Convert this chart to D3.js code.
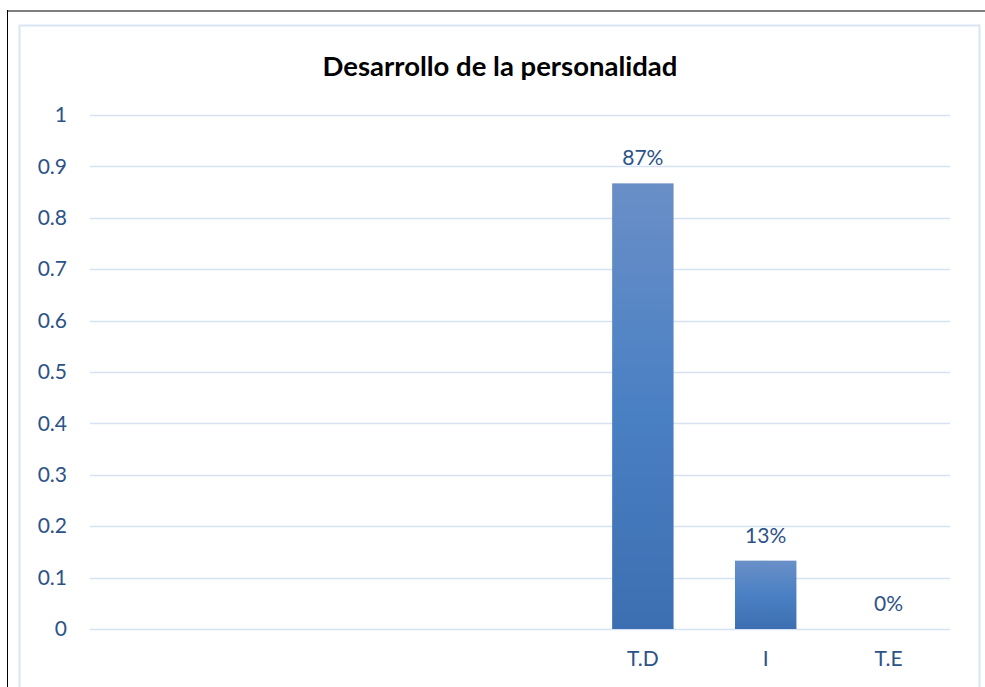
<!DOCTYPE html>
<html><head><meta charset="utf-8">
<script src="https://cdn.jsdelivr.net/npm/d3@7"></script>
<style>body{margin:0;background:#fff;}svg{display:block;}</style>
</head><body>
<svg id="c" width="985" height="687"></svg>
<script>
const title = "Desarrollo de la personalidad";
const categories = ["", "", "", "", "T.D", "I", "T.E"];
const values = [null, null, null, null, 0.867, 0.133, 0];
const labels = ["", "", "", "", "87%", "13%", "0%"];
const yTicks = [0, 0.1, 0.2, 0.3, 0.4, 0.5, 0.6, 0.7, 0.8, 0.9, 1];
const yTickLabels = ["0", "0.1", "0.2", "0.3", "0.4", "0.5", "0.6", "0.7", "0.8", "0.9", "1"];

const svg = d3.select("#c");
const font = "Lato, 'Open Sans', sans-serif";
const textColor = "#2c5288";
const fs = 21;

// outer frame
svg.append("line").attr("x1", 7).attr("x2", 985).attr("y1", 11).attr("y2", 11)
  .attr("stroke", "#7f7f7f").attr("stroke-width", 2);
svg.append("line").attr("x1", 7.5).attr("x2", 7.5).attr("y1", 10).attr("y2", 687)
  .attr("stroke", "#000").attr("stroke-width", 1);
// chart area border
svg.append("rect").attr("x", 19.5).attr("y", 25.5).attr("width", 960).attr("height", 700)
  .attr("fill", "#fff").attr("stroke", "#d9e5f3").attr("stroke-width", 2);

const x = d3.scaleBand().domain(d3.range(categories.length)).range([90, 950]).paddingInner(0.5).paddingOuter(0.25);
const y = d3.scaleLinear().domain([0, 1]).range([629, 115]);

// gridlines
svg.append("g").selectAll("line").data(yTicks).join("line")
  .attr("x1", 90).attr("x2", 950)
  .attr("y1", d => Math.round(y(d)) + 0.5).attr("y2", d => Math.round(y(d)) + 0.5)
  .attr("stroke", "#d6e2f1").attr("stroke-width", 1.5);

// y axis labels
const yAxis = d3.axisLeft(y).tickValues(yTicks).tickFormat((d, i) => yTickLabels[i]).tickSize(0).tickPadding(0);
const gy = svg.append("g").attr("transform", "translate(67,0)").call(yAxis);
gy.select(".domain").remove();
gy.selectAll("text").attr("font-family", font).attr("font-size", fs).attr("fill", textColor);

// x axis labels
const xAxis = d3.axisBottom(x).tickFormat(i => categories[i]).tickSize(0).tickPadding(0);
const gx = svg.append("g").attr("transform", "translate(0,651)").call(xAxis);
gx.select(".domain").remove();
gx.selectAll("text").attr("font-family", font).attr("font-size", fs).attr("fill", textColor);

// gradient
const defs = svg.append("defs");
const grad = defs.append("linearGradient").attr("id", "barGrad").attr("x1", 0).attr("x2", 0).attr("y1", 0).attr("y2", 1);
grad.append("stop").attr("offset", "0%").attr("stop-color", "#6a8fc7");
grad.append("stop").attr("offset", "50%").attr("stop-color", "#4a80c4");
grad.append("stop").attr("offset", "100%").attr("stop-color", "#3c6fb2");

const idx = d3.range(categories.length).filter(i => values[i] !== null);
svg.append("g").selectAll("rect").data(idx).join("rect")
  .attr("x", i => x(i)).attr("width", x.bandwidth())
  .attr("y", i => y(values[i])).attr("height", i => y(0) - y(values[i]))
  .attr("fill", "url(#barGrad)");

svg.append("g").selectAll("text").data(idx).join("text")
  .attr("x", i => x(i) + x.bandwidth() / 2)
  .attr("y", i => y(values[i]) - 18)
  .attr("text-anchor", "middle")
  .attr("font-family", font).attr("font-size", fs).attr("fill", textColor)
  .text(i => labels[i]);

svg.append("text").attr("x", 500).attr("y", 76).attr("text-anchor", "middle")
  .attr("font-family", font).attr("font-weight", "bold").attr("font-size", 27.5).attr("fill", "#000")
  .text(title);
</script>
</body></html>
